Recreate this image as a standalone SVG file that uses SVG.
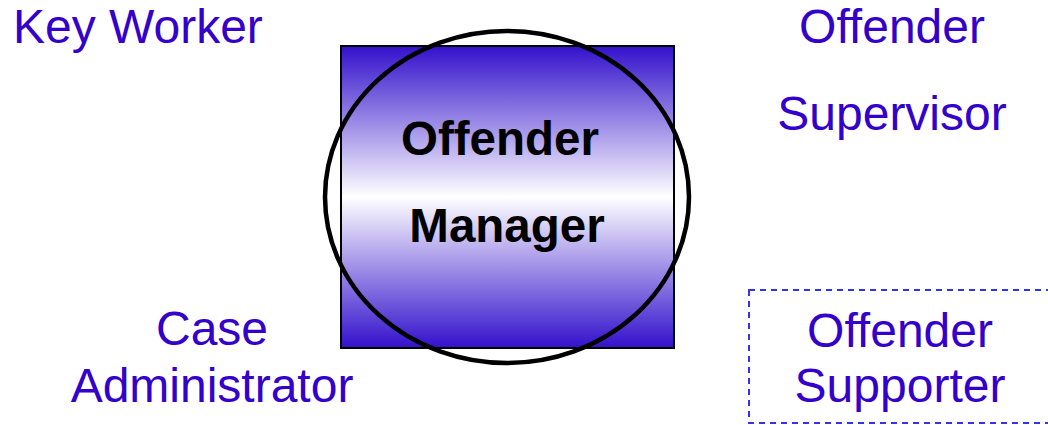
<svg xmlns="http://www.w3.org/2000/svg" width="1048" height="425" viewBox="0 0 1048 425">
  <defs>
    <linearGradient id="grad" x1="0" y1="0" x2="0" y2="1">
      <stop offset="0" stop-color="#3311cc"/>
      <stop offset="0.5" stop-color="#ffffff"/>
      <stop offset="1" stop-color="#3311cc"/>
    </linearGradient>
  </defs>
  <style>
    .lbl { font-family: "Liberation Sans", Arial, sans-serif; font-size: 48px; fill: #3300cc; }
    .bold { font-family: "Liberation Sans", Arial, sans-serif; font-size: 47.5px; font-weight: bold; fill: #000000; }
  </style>
  <rect width="1048" height="425" fill="#ffffff"/>
  <g id="offender-manager">
    <rect x="341" y="46" width="333" height="302" fill="url(#grad)" stroke="#000000" stroke-width="2"/>
    <ellipse cx="507" cy="197" rx="182" ry="166" fill="none" stroke="#000000" stroke-width="4.5"/>
    <text class="bold" x="500" y="155" text-anchor="middle">Offender</text>
    <text class="bold" x="507" y="242" text-anchor="middle">Manager</text>
  </g>
  <g id="key-worker">
    <text class="lbl" x="13" y="43">Key Worker</text>
  </g>
  <g id="offender-supervisor">
    <text class="lbl" x="892" y="43" text-anchor="middle">Offender</text>
    <text class="lbl" x="892" y="130" text-anchor="middle">Supervisor</text>
  </g>
  <g id="case-administrator">
    <text class="lbl" x="212" y="345" text-anchor="middle">Case</text>
    <text class="lbl" x="212" y="402" text-anchor="middle">Administrator</text>
  </g>
  <g id="offender-supporter">
    <rect x="749" y="290" width="310" height="133" fill="none" stroke="#3333ee" stroke-width="2" stroke-dasharray="6,5"/>
    <text class="lbl" x="900" y="347" text-anchor="middle">Offender</text>
    <text class="lbl" x="900" y="402" text-anchor="middle">Supporter</text>
  </g>
  <g id="connectors"/>
</svg>
